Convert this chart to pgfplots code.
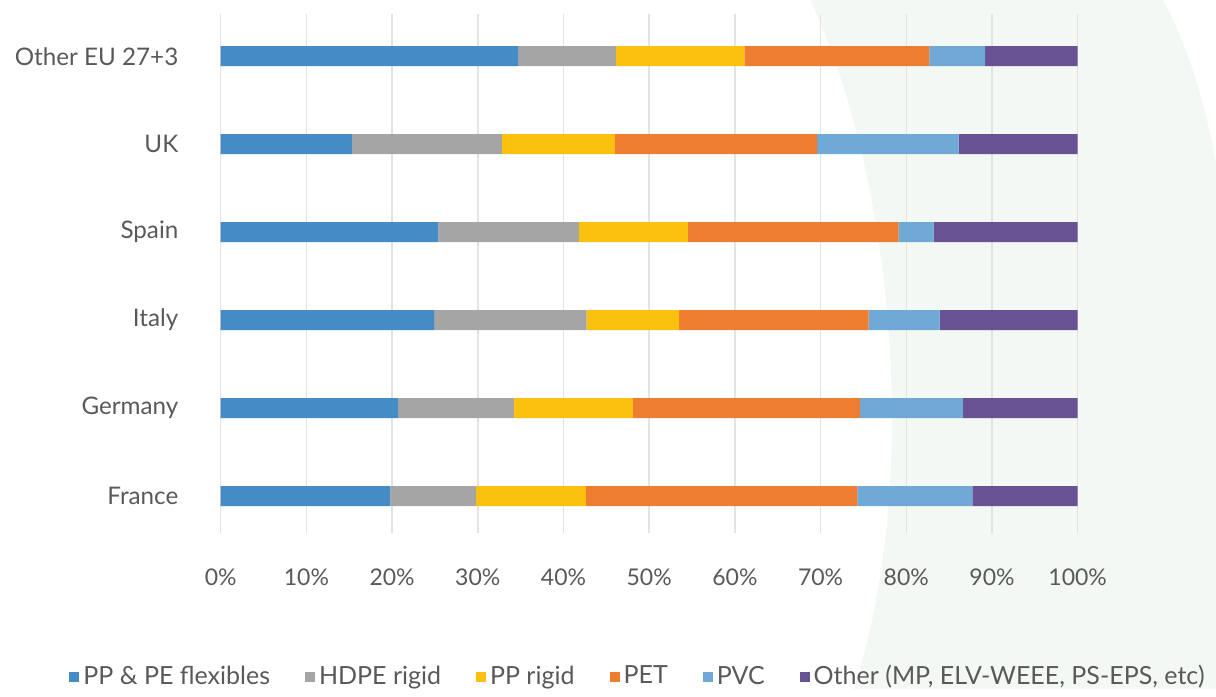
\documentclass[border=0pt]{standalone}
\usepackage{fontspec}
\setmainfont{Lato}
\usepackage{pgfplots}
\pgfplotsset{compat=1.18}
\definecolor{cA}{HTML}{458BC6}
\definecolor{cB}{HTML}{A5A5A5}
\definecolor{cC}{HTML}{FCC10F}
\definecolor{cD}{HTML}{ED7D31}
\definecolor{cE}{HTML}{6FA9D6}
\definecolor{cF}{HTML}{695293}
\definecolor{txt}{HTML}{595959}
\definecolor{bgg}{HTML}{F4F8F5}
\definecolor{grd}{HTML}{E3E3E3}
\begin{document}
\fontsize{11.5}{14}\selectfont
\begin{tikzpicture}
\path (0,0) rectangle (608pt,344.5pt);
\fill[bgg] (405pt,344.5pt) .. controls (445pt,260pt) and (462pt,110pt) .. (427pt,0pt) -- (608pt,0pt) -- (608pt,263pt) .. controls (603pt,290pt) and (595pt,320pt) .. (581.5pt,344.5pt) -- cycle;
\begin{axis}[at={(110.35pt,78pt)}, anchor=south west, scale only axis,
  width=428.5pt, height=259.5pt,
  xbar stacked, bar width=10pt,
  xmin=0, xmax=100, ymin=-0.42, ymax=5.48,
  ytick={0,1,2,3,4,5},
  yticklabels={France,Germany,Italy,Spain,UK,Other EU 27+3},
  xtick={0,10,20,30,40,50,60,70,80,90,100},
  xticklabels={0\%,10\%,20\%,30\%,40\%,50\%,60\%,70\%,80\%,90\%,100\%},
  major tick length=0pt,
  axis line style={draw=none},
  xmajorgrids, grid style={grd, line width=0.75pt},
  xticklabel style={text=txt, font=\fontsize{11.5}{14}\selectfont, anchor=center, inner sep=0pt, yshift=-22pt},
  yticklabel style={text=txt, font=\fontsize{12.1}{14}\selectfont, anchor=east, inner sep=0pt, xshift=-21pt},
  legend columns=6,
  legend style={draw=none, fill=none, at={(0.488,-0.277)}, anchor=center,
    font=\fontsize{12.5}{14}\selectfont, text=txt,
    /tikz/every even column/.append style={column sep=15.5pt}},
  legend image code/.code={\fill[#1] (0pt,-2.5pt) rectangle (5pt,2.5pt);},
  every axis plot/.append style={draw=none},
]
\addplot[fill=cA, draw=none] coordinates {(19.8,0) (20.7,1) (24.9,2) (25.4,3) (15.3,4) (34.7,5)};
\addplot[fill=cB, draw=none] coordinates {(10.0,0) (13.5,1) (17.8,2) (16.4,3) (17.5,4) (11.4,5)};
\addplot[fill=cC, draw=none] coordinates {(12.8,0) (13.9,1) (10.8,2) (12.7,3) (13.2,4) (15.0,5)};
\addplot[fill=cD, draw=none] coordinates {(31.7,0) (26.5,1) (22.1,2) (24.6,3) (23.6,4) (21.6,5)};
\addplot[fill=cE, draw=none] coordinates {(13.4,0) (12.0,1) (8.3,2) (4.1,3) (16.5,4) (6.5,5)};
\addplot[fill=cF, draw=none] coordinates {(12.3,0) (13.4,1) (16.1,2) (16.8,3) (13.9,4) (10.8,5)};
\legend{PP \& PE flexibles, HDPE rigid, PP rigid, PET, PVC, {Other (MP, ELV-WEEE, PS-EPS, etc)}}
\end{axis}
\end{tikzpicture}
\end{document}
